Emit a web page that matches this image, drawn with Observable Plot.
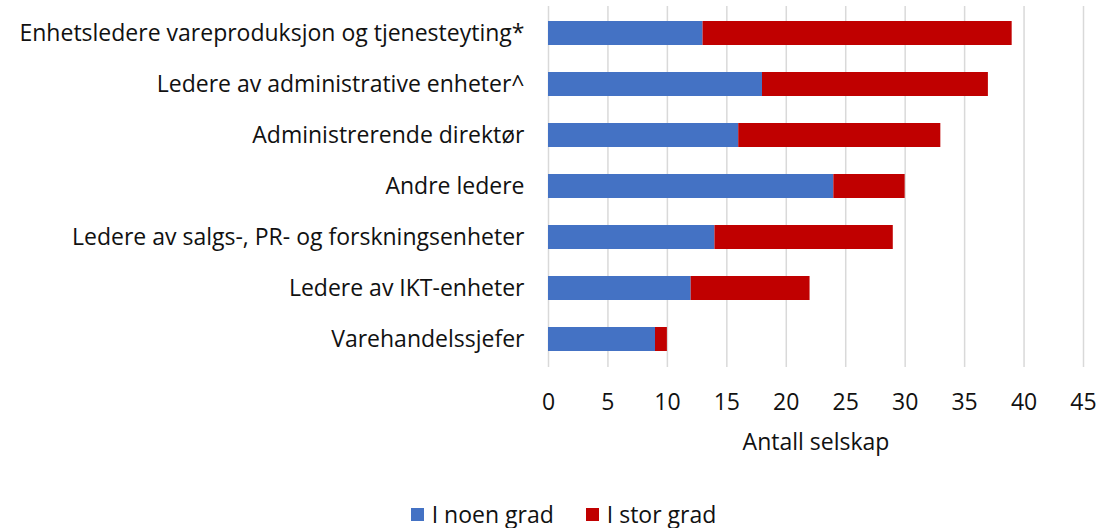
<!DOCTYPE html>
<html>
<head>
<meta charset="utf-8">
<script src="https://cdn.jsdelivr.net/npm/d3@7"></script>
<script src="https://cdn.jsdelivr.net/npm/@observablehq/plot@0.6"></script>
<style>
  body { margin: 0; background: #fff; font-family: "Open Sans", Lato, sans-serif; overflow: hidden; }
  #chart svg { display: block; }
  #legend { display: flex; justify-content: center; align-items: center; gap: 32px; height: 58px; padding-top: 30px; line-height: 26px; font-size: 23px; color: #111; padding-left: 22px; box-sizing: border-box; }
  .item { display: flex; align-items: center; gap: 8px; }
  .sw { width: 13px; height: 13px; display: inline-block; }
</style>
</head>
<body>
<div id="chart"></div>
<div id="legend"></div>
<script>
const categories = [
  "Enhetsledere vareproduksjon og tjenesteyting*",
  "Ledere av administrative enheter^",
  "Administrerende direktør",
  "Andre ledere",
  "Ledere av salgs-, PR- og forskningsenheter",
  "Ledere av IKT-enheter",
  "Varehandelssjefer"
];
const seriesNames = ["I noen grad", "I stor grad"];
const noenGrad = [13, 18, 16, 24, 14, 12, 9];
const storGrad = [26, 19, 17, 6, 15, 10, 1];
const colors = ["#4472C4", "#C00000"];
const xTicks = [0, 5, 10, 15, 20, 25, 30, 35, 40, 45];

const rows = [];
categories.forEach((c, i) => {
  rows.push({category: c, series: seriesNames[0], value: noenGrad[i]});
  rows.push({category: c, series: seriesNames[1], value: storGrad[i]});
});

const chart = Plot.plot({
  width: 1105,
  height: 470,
  marginTop: 6,
  marginBottom: 103,
  marginLeft: 548,
  marginRight: 22,
  style: {fontFamily: "'Open Sans', Lato, sans-serif", fontSize: "23px", color: "#111"},
  x: {domain: [0, 45]},
  y: {domain: categories, paddingInner: 0.52, paddingOuter: 0.26},
  color: {domain: seriesNames, range: colors},
  marks: [
    Plot.gridX(xTicks, {stroke: "#d9d9d9", strokeOpacity: 1, strokeWidth: 1.5}),
    Plot.barX(rows, {x: "value", y: "category", fill: "series", order: seriesNames}),
    Plot.axisX({ticks: xTicks, tickSize: 0, tickPadding: 26, fontSize: 23, label: "Antall selskap", labelAnchor: "center", labelArrow: "none", labelOffset: 82}),
    Plot.axisY({tickSize: 0, tickPadding: 24, fontSize: 23, label: null})
  ]
});
document.getElementById("chart").appendChild(chart);

const legend = document.getElementById("legend");
seriesNames.forEach((s, i) => {
  const it = document.createElement("span");
  it.className = "item";
  const sw = document.createElement("span");
  sw.className = "sw";
  sw.style.background = colors[i];
  const t = document.createElement("span");
  t.textContent = s;
  it.appendChild(sw);
  it.appendChild(t);
  legend.appendChild(it);
});
</script>
</body>
</html>
